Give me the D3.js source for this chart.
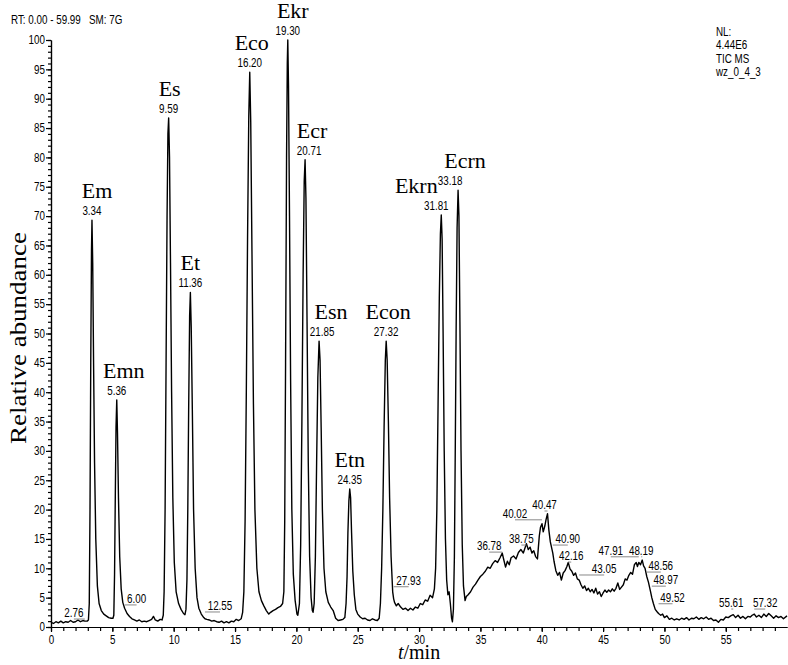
<!DOCTYPE html>
<html>
<head>
<meta charset="utf-8">
<script src="https://cdn.jsdelivr.net/npm/d3@7"></script>
<style>
body { margin: 0; background: #fff; }
svg { display: block; }
.num { font-family: "Liberation Sans", Arial, sans-serif; font-size: 12px; fill: #000; }
.serif { font-family: "Liberation Serif", "Times New Roman", serif; fill: #000; }
</style>
</head>
<body>
<svg width="788" height="665"></svg>
<script>
// TIC trace, [retention time (min), relative abundance (%)]
const ticTrace = [
  [0.0,0.8],[0.2,0.6],[0.4,0.9],[0.6,0.7],[0.8,1.0],[1.0,0.7],[1.2,0.9],[1.4,0.8],[1.6,1.1],[1.8,0.8],
  [2.0,0.9],[2.2,1.2],[2.4,0.9],[2.6,1.1],[2.76,1.0],[2.95,1.0],
  [3.05,1.2],[3.12,4],[3.18,20],[3.24,45],[3.30,64],[3.34,69.3],[3.40,62],[3.47,45],[3.55,28],[3.65,15],
  [3.78,7],[3.92,4],[4.1,2.8],[4.3,2.2],[4.5,1.9],[4.7,1.6],[4.9,1.5],[5.05,1.5],
  [5.12,2],[5.18,9],[5.24,22],[5.30,34],[5.36,38.7],[5.42,33],[5.50,22],[5.60,12],[5.72,6.5],[5.85,4.2],
  [6.0,3.2],[6.2,2.3],[6.4,1.8],[6.6,1.4],[6.8,1.2],[7.0,1.0],[7.2,1.2],[7.4,0.9],[7.6,1.0],[7.8,0.9],
  [8.0,1.1],[8.2,1.3],[8.35,1.8],[8.5,1.2],[8.7,1.0],[8.9,1.3],[9.05,1.2],
  [9.15,2],[9.22,6],[9.30,20],[9.38,45],[9.46,70],[9.53,84],[9.59,86.7],[9.66,80],[9.74,62],[9.83,40],
  [9.93,22],[10.05,11],[10.2,6],[10.4,4],[10.6,3],[10.8,2.3],[10.92,2.1],
  [11.0,3],[11.08,8],[11.15,20],[11.22,37],[11.30,53],[11.36,57],[11.43,51],[11.52,37],[11.62,20],[11.75,10],
  [11.9,5],[12.05,3.2],[12.25,2.2],[12.45,1.6],[12.55,1.4],[12.7,1.3],[12.9,1.2],[13.1,1.0],[13.3,1.1],[13.5,0.9],
  [13.7,0.8],[13.9,1.0],[14.1,0.7],[14.3,0.9],[14.5,0.7],[14.7,1.0],[14.9,0.9],[15.1,1.3],[15.3,1.1],[15.5,1.4],[15.62,2.5],
  [15.72,6],[15.82,18],[15.92,40],[16.02,66],[16.12,87],[16.20,94.5],[16.28,86],[16.38,64],[16.5,38],[16.62,20],
  [16.78,10],[16.95,6],[17.15,4.5],[17.35,3.6],[17.55,2.8],[17.75,2.2],[17.9,2.5],[18.1,2.8],[18.3,3.0],[18.5,3.3],[18.7,3.5],[18.88,4],
  [18.98,6],[19.05,18],[19.12,45],[19.2,80],[19.26,96],[19.30,100],[19.36,92],[19.44,70],[19.53,42],[19.63,20],
  [19.75,9],[19.9,4.5],[20.05,2.2],[20.12,2.0],
  [20.25,4],[20.35,14],[20.45,35],[20.55,60],[20.64,76],[20.71,79.6],[20.78,73],[20.87,52],[20.97,28],[21.08,12],
  [21.2,5],[21.3,2.8],[21.36,2.5],
  [21.45,4],[21.55,12],[21.65,28],[21.75,42.5],[21.85,48.7],[21.93,45.5],[22.02,34],[22.12,20],[22.25,10],[22.4,6],
  [22.6,4.2],[22.8,3.4],[23.0,2.8],[23.2,1.5],[23.4,1.1],[23.6,1.2],[23.8,1.3],[23.95,1.6],
  [24.05,4],[24.13,8.5],[24.2,16],[24.28,21.5],[24.35,23.5],[24.42,22],[24.5,16],[24.6,9.5],[24.72,5.5],[24.85,3],
  [25.0,2.2],[25.2,1.7],[25.4,1.4],[25.6,1.5],[25.8,1.2],[26.0,1.1],[26.2,1.4],[26.4,1.2],[26.6,1.1],[26.75,1.5],
  [26.85,4],[26.95,10],[27.05,20],[27.15,34],[27.25,45.5],[27.32,48.7],[27.4,45.5],[27.5,35],[27.6,22],[27.72,12],
  [27.85,6],[27.93,4.8],[28.0,4.2],[28.15,3.6],[28.3,4.0],[28.5,3.4],[28.7,3.0],[28.9,3.2],[29.1,2.8],[29.3,3.2],
  [29.5,2.9],[29.7,3.4],[29.9,3.2],[30.1,4.0],[30.3,3.8],[30.5,4.6],[30.7,4.4],[30.9,5.4],[31.1,5.0],[31.25,6.5],
  [31.35,10],[31.45,20],[31.55,38],[31.65,56],[31.74,67],[31.81,70.2],[31.88,66],[31.96,50],[32.05,30],[32.15,15],
  [32.25,8],[32.35,5.5],[32.45,6],[32.55,4],[32.65,1.5],[32.72,0.9],[32.8,3],
  [32.88,12],[32.95,30],[33.02,50],[33.1,68],[33.18,74.4],[33.25,70],[33.33,52],[33.42,30],[33.52,14],[33.62,7],
  [33.75,4.5],[33.85,5.2],
  [34.0,5.5],[34.2,6.0],[34.4,6.8],[34.6,7.3],[34.8,8.0],[35.0,8.6],[35.2,9.0],[35.4,9.5],[35.6,10.2],[35.8,10.0],
  [36.0,10.8],[36.2,11.3],[36.4,11.0],[36.6,11.8],[36.78,12.6],[36.9,11.5],[37.05,10.2],[37.2,11.2],[37.35,10.6],[37.5,11.8],
  [37.7,12.1],[37.9,11.6],[38.1,12.7],[38.3,13.2],[38.5,12.6],[38.75,14.2],[38.9,13.2],[39.05,13.6],[39.2,12.6],[39.35,13.0],
  [39.5,12.0],[39.65,11.6],[39.8,15.5],[39.9,17.0],[40.02,17.6],[40.12,16.2],[40.25,17.2],[40.35,18.3],[40.47,19.3],[40.58,16.5],
  [40.7,14.5],[40.9,12.6],[41.0,11.2],[41.15,9.6],[41.3,8.8],[41.45,9.3],[41.6,8.0],[41.75,9.2],[41.9,9.6],[42.05,10.3],
  [42.16,11.0],[42.3,9.9],[42.45,9.5],[42.6,8.8],[42.75,9.2],[42.9,8.2],[43.05,8.0],[43.2,7.2],[43.35,6.6],[43.5,7.0],
  [43.65,6.2],[43.8,6.6],[43.95,6.0],[44.1,6.4],[44.25,5.8],[44.4,6.6],[44.55,5.6],[44.7,6.0],[44.85,5.2],[45.0,5.8],
  [45.15,6.3],[45.3,5.9],[45.45,6.3],[45.6,6.0],[45.75,6.5],[45.9,6.1],[46.05,6.6],[46.2,7.5],[46.35,6.4],[46.5,6.8],
  [46.65,7.2],[46.8,8.2],[46.95,8.0],[47.1,8.8],[47.25,9.3],[47.4,9.0],[47.55,10.6],[47.7,11.0],[47.8,10.3],[47.91,11.0],
  [48.05,10.6],[48.19,11.4],[48.3,10.4],[48.42,10.0],[48.56,8.6],[48.7,7.6],[48.85,6.2],[48.97,5.0],[49.1,4.0],[49.25,3.0],
  [49.4,2.6],[49.52,2.3],[49.7,2.0],[49.85,2.2],[50.0,1.6],[50.2,1.9],[50.4,1.3],[50.6,1.5],[50.8,1.2],[51.0,1.4],
  [51.2,1.2],[51.4,1.5],[51.6,1.3],[51.8,1.6],[52.0,1.2],[52.2,1.5],[52.4,1.4],[52.6,1.7],[52.8,1.3],[53.0,1.6],
  [53.2,1.4],[53.4,1.7],[53.6,1.3],[53.8,1.5],[54.0,1.1],[54.2,1.2],[54.4,0.8],[54.6,1.3],[54.8,1.2],[55.0,1.7],
  [55.2,1.6],[55.4,1.9],[55.61,2.1],[55.8,1.6],[56.0,2.0],[56.2,1.5],[56.4,1.8],[56.6,1.4],[56.8,1.8],[57.0,1.7],
  [57.15,2.0],[57.32,2.2],[57.5,1.7],[57.7,2.0],[57.9,1.6],[58.1,2.2],[58.3,1.8],[58.5,2.3],[58.7,1.9],[58.9,1.5],
  [59.1,1.9],[59.3,1.6],[59.5,1.8],[59.7,1.4],[59.99,1.9]
];

// named peaks
const peakNames = ['Em','Emn','Es','Et','Eco','Ekr','Ecr','Esn','Etn','Econ','Ekrn','Ecrn'];
const peakTimes = ['3.34','5.36','9.59','11.36','16.20','19.30','20.71','21.85','24.35','27.32','31.81','33.18'];
// small unnamed retention time labels
const minorTimes = ['2.76','6.00','12.55','27.93','36.78','38.75','40.02','40.47','40.90','42.16',
                    '43.05','47.91','48.19','48.56','48.97','49.52','55.61','57.32'];

const xTicks = [0,5,10,15,20,25,30,35,40,45,50,55];
const yTicks = [0,5,10,15,20,25,30,35,40,45,50,55,60,65,70,75,80,85,90,95,100];
const infoLines = ['NL:', '4.44E6', 'TIC MS', 'wz_0_4_3'];

// label layout: name / time x shift (px); minor label x shift (px) and baseline level (%)
const peakNameDx = [5,7,1,0,2,5,7,12,0,2,-25,7];
const peakTimeDx = [0,0,0,0,0,0,4,3,0,0,-5,-8];
const minorDx = [-11,12,15,15,-13,-5,-27,-3,15,3,25,-28,-1,14,14,14,-2,11];
const minorLevel = [1.7,4.1,2.9,7.2,13.1,14.3,18.6,20.1,14.3,11.4,9.2,12.3,12.3,9.7,7.3,4.3,3.4,3.4];

const squeezeX = 0.82;

let svg = d3.select('svg');

let x = d3.scaleLinear().domain([0, 59.99]).range([51, 787]);
let y = d3.scaleLinear().domain([0, 100]).range([627, 40]);

// the original numbers are set in a narrow sans face
let squeeze = (sel) => {
    sel.each(function () {
        let t = d3.select(this);
        let tx = +(t.attr('x') || 0);
        t.attr('x', tx / squeezeX).attr('transform', 'scale(' + squeezeX + ',1)');
    });
}

let drawAxes = () => {
    // minor ticks every 1 unit
    svg.append('g')
       .attr('transform', 'translate(0,' + y(0) + ')')
       .call(d3.axisBottom(x).tickValues(d3.range(0, 60, 1)).tickSize(4).tickSizeOuter(0).tickFormat(''))
    svg.append('g')
       .attr('transform', 'translate(' + x(0) + ',0)')
       .call(d3.axisLeft(y).tickValues(d3.range(0, 101, 1)).tickSize(3).tickSizeOuter(0).tickFormat(''))

    let gx = svg.append('g')
       .attr('id', 'x-axis')
       .attr('transform', 'translate(0,' + y(0) + ')')
       .call(d3.axisBottom(x).tickValues(xTicks).tickSize(5).tickPadding(3).tickSizeOuter(0))
    let gy = svg.append('g')
       .attr('id', 'y-axis')
       .attr('transform', 'translate(' + x(0) + ',0)')
       .call(d3.axisLeft(y).tickValues(yTicks).tickSize(5).tickPadding(1).tickSizeOuter(0))

    svg.selectAll('.domain, .tick line').attr('stroke', '#000').attr('stroke-width', 1.2)
    gx.attr('font-family', null).attr('font-size', null)
    gy.attr('font-family', null).attr('font-size', null)
    gx.selectAll('text').attr('class', 'num').call(squeeze)
    gy.selectAll('text').attr('class', 'num').call(squeeze)

    svg.append('text')
       .attr('class', 'serif')
       .attr('font-size', 27)
       .attr('text-anchor', 'middle')
       .attr('transform', 'translate(26,338) rotate(-90) scale(1,0.82)')
       .text('Relative abundance')

    let xl = svg.append('text')
       .attr('class', 'serif')
       .attr('font-size', 20)
       .attr('text-anchor', 'middle')
       .attr('x', x(30))
       .attr('y', 659)
    xl.append('tspan').attr('font-style', 'italic').text('t')
    xl.append('tspan').text('/min')
}

let drawTrace = () => {
    let line = d3.line().x(d => x(d[0])).y(d => y(d[1]))
    svg.append('path')
       .datum(ticTrace)
       .attr('d', line)
       .attr('fill', 'none')
       .attr('stroke', '#000')
       .attr('stroke-width', 1.4)
       .attr('stroke-linejoin', 'round')
}

let valueAt = (t) => {
    let best = ticTrace[0]
    ticTrace.forEach(p => { if (Math.abs(p[0] - t) < Math.abs(best[0] - t)) best = p })
    return best[1]
}

let drawLabels = () => {
    peakTimes.forEach((rt, i) => {
        let px = x(+rt)
        let py = y(valueAt(+rt))
        svg.append('text')
           .attr('class', 'num rt')
           .attr('text-anchor', 'middle')
           .attr('x', px + peakTimeDx[i])
           .attr('y', py - 5)
           .text(rt)
        svg.append('text')
           .attr('class', 'serif')
           .attr('font-size', 22)
           .attr('text-anchor', 'middle')
           .attr('x', px + peakNameDx[i])
           .attr('y', py - 22)
           .text(peakNames[i])
    })

    minorTimes.forEach((rt, i) => {
        let px = x(+rt)
        let cx = px + minorDx[i]
        let by = y(minorLevel[i])
        svg.append('line')
           .attr('x1', Math.min(px, cx))
           .attr('x2', Math.max(px, cx))
           .attr('y1', by + 2)
           .attr('y2', by + 2)
           .attr('stroke', '#888')
           .attr('stroke-width', 1)
        svg.append('text')
           .attr('class', 'num rt')
           .attr('text-anchor', 'middle')
           .attr('x', cx)
           .attr('y', by)
           .text(rt)
    })
    svg.selectAll('.rt').call(squeeze)
}

let drawInfo = () => {
    svg.append('text')
       .attr('class', 'num head')
       .attr('x', 11)
       .attr('y', 24)
       .style('white-space', 'pre')
       .text('RT: 0.00 - 59.99   SM: 7G')

    svg.selectAll('.info')
       .data(infoLines)
       .enter()
       .append('text')
       .attr('class', 'num info')
       .attr('x', 716)
       .attr('y', (d, i) => 36 + i * 13.4)
       .text(d => d)

    svg.selectAll('.head, .info').call(squeeze)
}

drawAxes()
drawTrace()
drawLabels()
drawInfo()
</script>
</body>
</html>
